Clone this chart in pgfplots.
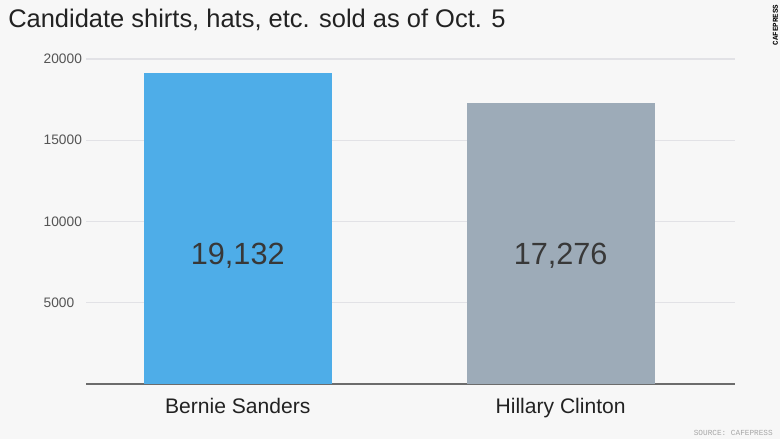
\documentclass[border=0pt]{standalone}
\usepackage{fontspec}
\setmainfont{Liberation Sans}
\newfontfamily\monofont{Liberation Mono}
\usepackage{pgfplots}
\pgfplotsset{compat=1.18}
\definecolor{bgcol}{HTML}{F7F7F7}
\definecolor{bernie}{HTML}{4EADE8}
\definecolor{hillary}{HTML}{9DABB8}
\definecolor{gridcol}{HTML}{E2E2E6}
\definecolor{txt}{HTML}{222222}
\definecolor{tick}{HTML}{555555}
\begin{document}
\begin{tikzpicture}
\path[use as bounding box] (0,0) rectangle (585pt,329.25pt);
\fill[bgcol] (0,0) rectangle (585pt,329.25pt);
\node[anchor=base west, inner sep=0pt, text=txt, font=\fontsize{19.1}{22}\selectfont] at (6pt,308.25pt) {Candidate shirts, hats, etc. sold as of Oct. 5};
\node[rotate=90, inner sep=0pt, font=\monofont\bfseries\fontsize{5.6}{6}\selectfont, text=black] at (581.5pt,310.5pt) {CAFEPRESS};
\node[anchor=east, inner sep=0pt, font=\monofont\fontsize{5.8}{6}\selectfont, text=gray!70] at (579.75pt,4.5pt) {SOURCE: CAFEPRESS};
\begin{axis}[
  at={(64.5pt,41.25pt)}, anchor=south west,
  scale only axis, width=486.75pt, height=243.75pt,
  ymin=0, ymax=20000, xmin=-0.47, xmax=1.54,
  axis x line*=bottom, axis y line*=left,
  x axis line style={draw=gray!85!black, line width=1.1pt, -},
  y axis line style={draw=none},
  major tick length=0pt,
  ymajorgrids, grid style={draw=gridcol, line width=0.8pt},
  ytick={5000,10000,15000,20000},
  scaled y ticks=false,
  xtick={0,1}, xticklabels={Bernie Sanders, Hillary Clinton},
  xticklabel style={font=\fontsize{15.8}{18}\selectfont, text=txt, yshift=-7.5pt},
  yticklabel style={font=\fontsize{10.3}{12}\selectfont, text=tick, anchor=west, xshift=-35.25pt},
  /pgf/number format/assume math mode=true,
  /pgf/number format/set thousands separator={},
]
\addplot[ybar, bar width=141pt, fill=bernie, draw=none, bar shift=0pt] coordinates {(0,19132)};
\addplot[ybar, bar width=141pt, fill=hillary, draw=none, bar shift=0pt] coordinates {(1,17276)};
\addplot[draw=none, mark=none, nodes near coords, point meta=explicit symbolic,
  every node near coord/.append style={anchor=center, font=\fontsize{23}{26}\selectfont, text=txt!90}]
  table[meta=label] {
x y label
0 7877 19,132
1 7877 17,276
};
\end{axis}
\end{tikzpicture}
\end{document}
